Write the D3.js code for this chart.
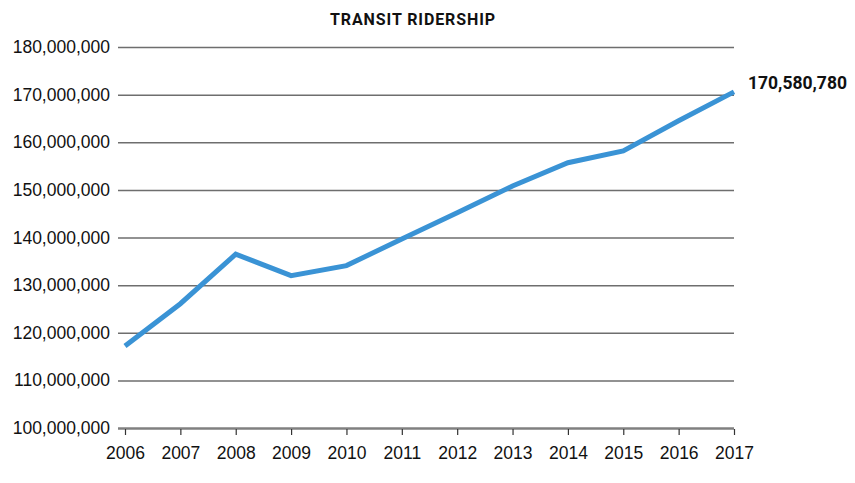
<!DOCTYPE html>
<html>
<head>
<meta charset="utf-8">
<script src="https://cdn.jsdelivr.net/npm/d3@7"></script>
<style>
  body { margin: 0; background: #fff; }
  svg { display: block; font-family: Roboto, "DejaVu Sans", sans-serif; }
</style>
</head>
<body>
<div id="content"></div>
<script>
// chart data
const years = [2006, 2007, 2008, 2009, 2010, 2011, 2012, 2013, 2014, 2015, 2016, 2017];
const ridership = [117200000, 126100000, 136500000, 132000000, 134100000, 139700000,
                   145200000, 150800000, 155700000, 158200000, 164500000, 170580780];
const yTicks = [100000000, 110000000, 120000000, 130000000, 140000000,
                150000000, 160000000, 170000000, 180000000];
const title = 'TRANSIT RIDERSHIP';

const width = 855, height = 483;
const margin = { top: 47, right: 121, bottom: 55, left: 125 };

const svg = d3.select('#content').append('svg')
  .attr('width', width)
  .attr('height', height);

const x = d3.scaleLinear()
  .domain(d3.extent(years))
  .range([margin.left, width - margin.right]);

const y = d3.scaleLinear()
  .domain([100000000, 180000000])
  .range([height - margin.bottom, margin.top]);

// horizontal grid lines + y labels
const yAxis = svg.append('g')
  .attr('transform', `translate(${margin.left},0)`)
  .call(d3.axisLeft(y)
    .tickValues(yTicks)
    .tickFormat(d3.format(','))
    .tickSize(-(width - margin.right - margin.left))
    .tickSizeOuter(0)
    .tickPadding(15));
yAxis.select('.domain').remove();
yAxis.selectAll('.tick line')
  .attr('x1', -7)
  .attr('stroke', '#6e6e6e')
  .attr('stroke-width', 1.5);
yAxis.selectAll('.tick text')
  .attr('fill', '#111')
  .style('font-size', '17.5px');
yAxis.selectAll('.tick')
  .filter(d => d === 100000000)
  .select('line')
  .attr('stroke', '#808080')
  .attr('stroke-width', 2.5);

// x axis ticks and labels
const xAxis = svg.append('g')
  .attr('transform', `translate(0,${height - margin.bottom + 1})`)
  .call(d3.axisBottom(x)
    .tickValues(years)
    .tickFormat(d3.format('d'))
    .tickSize(6)
    .tickPadding(12));
xAxis.select('.domain').remove();
xAxis.selectAll('.tick line').attr('stroke', '#333').attr('stroke-width', 1.2);
xAxis.selectAll('.tick text')
  .attr('fill', '#111')
  .style('font-size', '17.5px');

// the line
const line = d3.line()
  .x((d, i) => x(years[i]))
  .y(d => y(d));

svg.append('path')
  .datum(ridership)
  .attr('fill', 'none')
  .attr('stroke', '#3a93d5')
  .attr('stroke-width', 5)
  .attr('stroke-linejoin', 'miter')
  .attr('d', line);

// last value label
const lastIdx = years.length - 1;
svg.append('text')
  .attr('x', x(years[lastIdx]) + 14)
  .attr('y', y(ridership[lastIdx]) - 7)
  .attr('dominant-baseline', 'middle')
  .attr('fill', '#111')
  .style('font-size', '17.5px')
  .style('font-weight', 'bold')
  .text(d3.format(',')(ridership[lastIdx]));

// title
svg.append('text')
  .attr('x', 413)
  .attr('y', 25)
  .attr('text-anchor', 'middle')
  .attr('fill', '#111')
  .style('font-size', '16px')
  .style('font-weight', 'bold')
  .style('letter-spacing', '0.9px')
  .text(title);
</script>
</body>
</html>
